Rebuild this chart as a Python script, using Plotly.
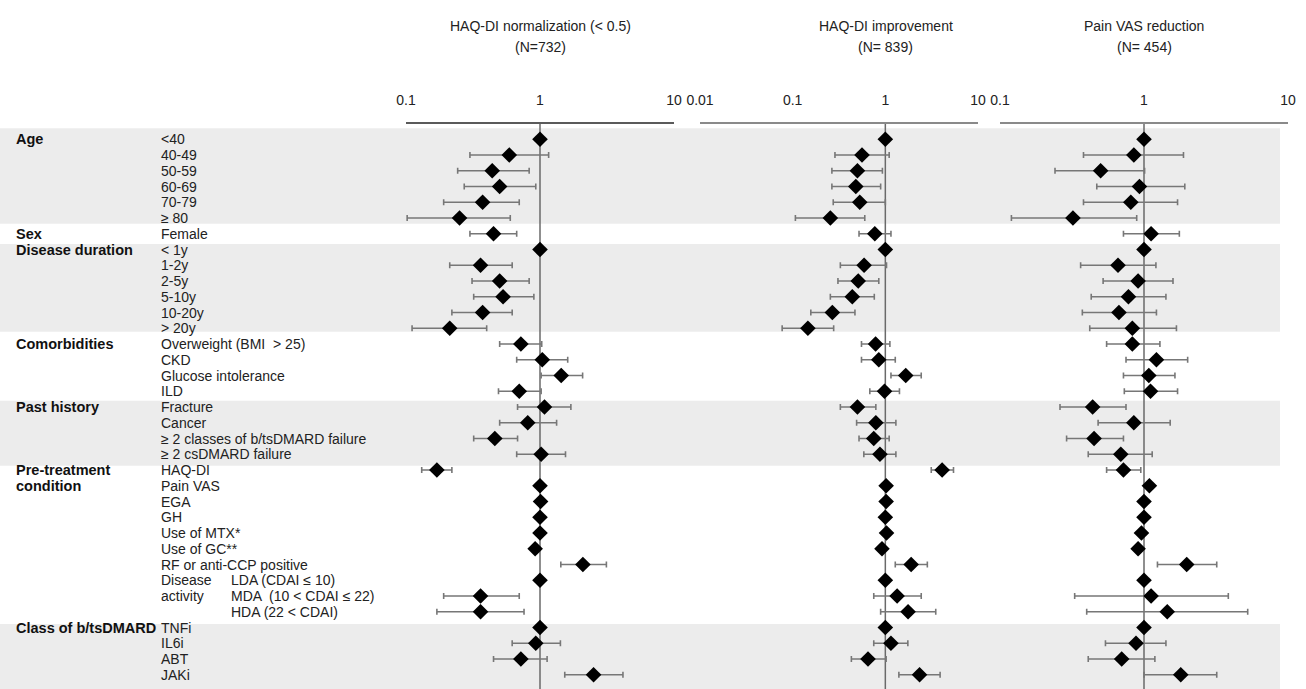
import plotly.graph_objects as go

W, H = 1306, 689

# ---------------- data ----------------
row_labels = ["<40", "40-49", "50-59", "60-69", "70-79", "≥ 80",
              "Female",
              "< 1y", "1-2y", "2-5y", "5-10y", "10-20y", "> 20y",
              "Overweight (BMI  > 25)", "CKD", "Glucose intolerance", "ILD",
              "Fracture", "Cancer", "≥ 2 classes of b/tsDMARD failure", "≥ 2 csDMARD failure",
              "HAQ-DI", "Pain VAS", "EGA", "GH", "Use of MTX*", "Use of GC**",
              "RF or anti-CCP positive", "LDA (CDAI ≤ 10)", "MDA  (10 < CDAI ≤ 22)", "HDA (22 < CDAI)",
              "TNFi", "IL6i", "ABT", "JAKi"]

group_labels = ["Age", "Sex", "Disease duration", "Comorbidities", "Past history",
                "Pre-treatment", "condition", "Class of b/tsDMARD"]
group_label_rows = [0, 6, 7, 13, 17, 21, 22, 31]

activity_labels = ["Disease", "activity"]
activity_rows = [28, 29]
indented_rows = [28, 29, 30]

panel_titles = ["HAQ-DI normalization (< 0.5)", "HAQ-DI improvement", "Pain VAS reduction"]
panel_n = ["(N=732)", "(N= 839)", "(N= 454)"]

tick_vals_1 = [0.1, 1, 10]
tick_text_1 = ["0.1", "1", "10"]
tick_vals_2 = [0.01, 0.1, 1, 10]
tick_text_2 = ["0.01", "0.1", "1", "10"]
tick_vals_3 = [0.1, 1, 10]
tick_text_3 = ["0.1", "1", "10"]

or_1 = [1, 0.59, 0.44, 0.50, 0.373, 0.251, 0.45, 1, 0.36, 0.50, 0.53, 0.373, 0.212,
        0.72, 1.04, 1.44, 0.70, 1.08, 0.81, 0.46, 1.02,
        0.170, 1.0, 1.01, 1.0, 1.0, 0.92, 2.09, 1, 0.36, 0.36, 1, 0.93, 0.72, 2.51]
lo_1 = [None, 0.30, 0.243, 0.272, 0.191, 0.102, 0.30, None, 0.212, 0.311, 0.32, 0.22, 0.111,
        0.50, 0.67, 1.02, 0.49, 0.68, 0.50, 0.32, 0.67,
        0.131, None, None, None, None, None, 1.43, None, 0.191, 0.170, None, 0.62, 0.45, 1.53]
hi_1 = [None, 1.16, 0.83, 0.93, 0.70, 0.60, 0.67, None, 0.62, 0.83, 0.90, 0.62, 0.40,
        1.03, 1.61, 2.08, 1.02, 1.70, 1.33, 0.68, 1.55,
        0.22, None, None, None, None, None, 3.13, None, 0.70, 0.76, None, 1.42, 1.13, 4.16]

or_2 = [1, 0.56, 0.50, 0.48, 0.53, 0.255, 0.77, 1, 0.59, 0.51, 0.44, 0.268, 0.146,
        0.785, 0.85, 1.66, 0.98, 0.50, 0.79, 0.75, 0.875,
        4.10, 1.02, 1.02, 1.0, 1.03, 0.92, 1.90, 1, 1.34, 1.76, 1, 1.15, 0.65, 2.34]
lo_2 = [None, 0.286, 0.265, 0.265, 0.274, 0.107, 0.52, None, 0.327, 0.308, 0.255, 0.157, 0.077,
        0.553, 0.553, 1.15, 0.68, 0.327, 0.49, 0.52, 0.586,
        3.13, None, None, None, None, None, 1.28, None, 0.75, 0.89, None, 0.75, 0.43, 1.40]
hi_2 = [None, 1.10, 0.93, 0.89, 1.0, 0.60, 1.15, None, 1.03, 0.85, 0.76, 0.47, 0.277,
        1.12, 1.28, 2.44, 1.42, 0.79, 1.30, 1.10, 1.30,
        5.44, None, None, None, None, None, 2.84, None, 2.44, 3.50, None, 1.75, 1.02, 3.90]

or_3 = [1, 0.85, 0.50, 0.93, 0.81, 0.321, 1.12, 1, 0.66, 0.91, 0.78, 0.67, 0.83,
        0.83, 1.22, 1.08, 1.11, 0.44, 0.85, 0.45, 0.69,
        0.72, 1.09, 1.0, 1.0, 0.96, 0.91, 1.98, 1, 1.12, 1.45, 1, 0.88, 0.70, 1.80]
lo_3 = [None, 0.38, 0.241, 0.47, 0.38, 0.120, 0.72, None, 0.363, 0.52, 0.43, 0.373, 0.42,
        0.55, 0.75, 0.72, 0.73, 0.261, 0.48, 0.29, 0.41,
        0.55, None, None, None, None, None, 1.24, None, 0.33, 0.40, None, 0.54, 0.41, 1.0]
hi_3 = [None, 1.88, 1.01, 1.92, 1.71, 0.89, 1.76, None, 1.21, 1.59, 1.42, 1.22, 1.68,
        1.29, 2.01, 1.64, 1.71, 0.75, 1.52, 0.72, 1.14,
        0.95, None, None, None, None, None, 3.20, None, 3.85, 5.25, None, 1.42, 1.19, 3.20]

# shaded bands (row units): Age, Disease duration, Past history, Class of b/tsDMARD
band_edges = [(-0.7, 5.36), (6.65, 12.22), (16.6, 20.72), (30.77, 34.95)]

# ---------------- layout helpers ----------------
TOP_PX = 124.0
ROW0_PX = 139.3
ROW_PX = 15.75
y_top = (TOP_PX - ROW0_PX) / ROW_PX
y_bot = (H - ROW0_PX) / ROW_PX
y_dom_top = 1 - TOP_PX / H

rows = list(range(len(row_labels)))
FONT = "Liberation Sans, Arial, sans-serif"
FONT_N = "Liberation Sans Narrow, Arial Narrow, Liberation Sans, Arial, sans-serif"

fig = go.Figure()

panels = [
    ("x", or_1, lo_1, hi_1),
    ("x2", or_2, lo_2, hi_2),
    ("x3", or_3, lo_3, hi_3),
]
for xa, o, lo, hi in panels:
    plus = [(h - v) if h is not None else 0 for v, h in zip(o, hi)]
    minus = [(v - l) if l is not None else 0 for v, l in zip(o, lo)]
    fig.add_trace(go.Scatter(
        x=o, y=rows, xaxis=xa, yaxis="y", mode="markers",
        marker=dict(symbol="diamond", size=12, color="black"),
        error_x=dict(type="data", symmetric=False, array=plus, arrayminus=minus,
                     color="#777777", thickness=1.6, width=3),
        showlegend=False, hoverinfo="x+y",
    ))

x_domains = [(406 / W, 674 / W), (700 / W, 978 / W), (1000 / W, 1288 / W)]
x_ranges = [[-1, 1], [-2, 1], [-1, 1]]
tick_sets = [(tick_vals_1, tick_text_1), (tick_vals_2, tick_text_2), (tick_vals_3, tick_text_3)]
axis_keys = ["xaxis", "xaxis2", "xaxis3"]
line_cols = ["#5a5a5a", "#8a8a8a", "#8a8a8a"]
for k, dom, rng, (tv, tt), lc in zip(axis_keys, x_domains, x_ranges, tick_sets, line_cols):
    fig.layout[k] = dict(
        type="log", domain=list(dom), range=rng, anchor="y", side="top",
        showgrid=False, zeroline=False, showline=True, linecolor=lc, linewidth=1.5,
        ticks="", tickvals=tv, ticktext=tt, ticklabelstandoff=12, automargin=False,
        tickfont=dict(family=FONT_N, size=14, color="#222"), fixedrange=True,
    )

fig.update_layout(
    width=W, height=H,
    margin=dict(l=0, r=0, t=0, b=0, pad=0, autoexpand=False),
    paper_bgcolor="white", plot_bgcolor="rgba(0,0,0,0)",
    yaxis=dict(domain=[0, y_dom_top], range=[y_bot, y_top], visible=False,
               automargin=False, fixedrange=True),
)

shapes = []
for y0, y1 in band_edges:
    shapes.append(dict(type="rect", xref="paper", yref="y", x0=0, x1=1280 / W,
                       y0=y0, y1=y1, fillcolor="#ececec", line=dict(width=0), layer="below"))
for xa in ["x", "x2", "x3"]:
    shapes.append(dict(type="line", xref=xa, yref="paper", x0=1, x1=1, y0=0, y1=y_dom_top,
                       line=dict(color="#6a6a6a", width=1.5), layer="below"))
fig.update_layout(shapes=shapes)

ann = []
title_x = [540 / W, 886 / W, 1144 / W]
for tx, t, n in zip(title_x, panel_titles, panel_n):
    ann.append(dict(x=tx, y=1 - 26 / H, xref="paper", yref="paper", text=t, showarrow=False,
                    xanchor="center", yanchor="middle", font=dict(family=FONT_N, size=14, color="#222")))
    ann.append(dict(x=tx, y=1 - 47 / H, xref="paper", yref="paper", text=n, showarrow=False,
                    xanchor="center", yanchor="middle", font=dict(family=FONT_N, size=14, color="#222")))

for g, r in zip(group_labels, group_label_rows):
    ann.append(dict(x=14 / W, y=r, xref="paper", yref="y", text="<b>" + g + "</b>", showarrow=False,
                    xanchor="left", yanchor="middle", font=dict(family=FONT, size=14.5, color="#111")))
for r, lab in zip(rows, row_labels):
    xpx = 229 if r in indented_rows else 159
    ann.append(dict(x=xpx / W, y=r, xref="paper", yref="y", text=lab, showarrow=False,
                    xanchor="left", yanchor="middle", font=dict(family=FONT, size=14, color="#222")))
for lab, r in zip(activity_labels, activity_rows):
    ann.append(dict(x=159 / W, y=r, xref="paper", yref="y", text=lab, showarrow=False,
                    xanchor="left", yanchor="middle", font=dict(family=FONT, size=14, color="#222")))
fig.update_layout(annotations=ann)

fig.write_html("out.html", config={"displayModeBar": False},
               post_script="document.body.style.margin='0';document.body.style.overflow='hidden';")
